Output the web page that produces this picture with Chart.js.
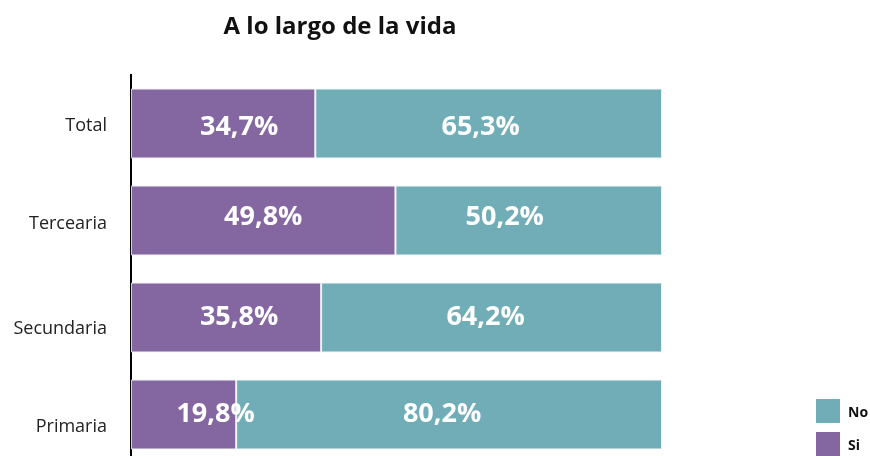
<!DOCTYPE html>
<html>
<head>
<meta charset="utf-8">
<script src="https://cdn.jsdelivr.net/npm/chart.js@4"></script>
<style>
  html, body { margin: 0; padding: 0; background: #fff; overflow: hidden; }
  #wrap { width: 870px; height: 464px; }
</style>
</head>
<body>
<div id="wrap"><canvas id="c" width="870" height="464"></canvas></div>
<script>
const titleText = "A lo largo de la vida";
const categories = ["Total", "Tercearia", "Secundaria", "Primaria"];
const siValues = [34.7, 49.8, 35.8, 19.8];
const noValues = [65.3, 50.2, 64.2, 80.2];
const seriesNames = ["Si", "No"];
// label placement nudges (px)
const siLabelShift = [16, 0, 13, 32];
const noLabelShift = [-8, -24, -6, -7];
const valueLabelDy = [0.5, -6.5, -3.5, -3.5];
const tickLabelDy = [1, 1.5, 9.5, 10.5];

const purple = "#8467a1";
const teal = "#71adb7";
const fontFam = "'Open Sans', 'Noto Sans', sans-serif";

const fmt = v => v.toFixed(1).replace(".", ",") + "%";

const labelPlugin = {
  id: "valueLabels",
  afterDatasetsDraw(chart) {
    const ctx = chart.ctx;
    ctx.save();
    ctx.fillStyle = "#ffffff";
    ctx.font = "bold 27px " + fontFam;
    ctx.textAlign = "center";
    ctx.textBaseline = "middle";
    chart.data.datasets.forEach((ds, di) => {
      const meta = chart.getDatasetMeta(di);
      const shifts = di === 0 ? siLabelShift : noLabelShift;
      meta.data.forEach((bar, i) => {
        const cx = (bar.x + bar.base) / 2 + shifts[i];
        ctx.fillText(fmt(ds.data[i]), cx, bar.y + valueLabelDy[i] + 3);
      });
    });
    ctx.restore();
  }
};

const extrasPlugin = {
  id: "extras",
  afterDraw(chart) {
    const ctx = chart.ctx;
    ctx.save();
    // category labels along the y scale
    const ys = chart.scales.y;
    ctx.fillStyle = "#222";
    ctx.font = "18px " + fontFam;
    ctx.textAlign = "right";
    ctx.textBaseline = "middle";
    chart.data.labels.forEach((lab, i) => {
      ctx.fillText(lab, ys.right - 24, ys.getPixelForTick(i) + tickLabelDy[i] + 1.5);
    });
    // title
    ctx.fillStyle = "#111";
    ctx.font = "bold 24px " + fontFam;
    ctx.textAlign = "center";
    ctx.fillText(titleText, 340, 27);
    // legend
    const items = [
      { text: chart.data.datasets[1].label, color: chart.data.datasets[1].backgroundColor, y: 399 },
      { text: chart.data.datasets[0].label, color: chart.data.datasets[0].backgroundColor, y: 432 }
    ];
    ctx.font = "bold 14px " + fontFam;
    ctx.textAlign = "left";
    items.forEach(it => {
      ctx.fillStyle = it.color;
      ctx.fillRect(816, it.y, 24, 24);
      ctx.fillStyle = "#111";
      ctx.fillText(it.text, 848, it.y + 14);
    });
    ctx.restore();
  }
};

new Chart(document.getElementById("c"), {
  type: "bar",
  data: {
    labels: categories,
    datasets: [
      { label: seriesNames[0], data: siValues, backgroundColor: purple, borderColor: "rgba(235,230,240,0.9)", borderWidth: 1, borderSkipped: false },
      { label: seriesNames[1], data: noValues, backgroundColor: teal, borderColor: "rgba(230,240,242,0.9)", borderWidth: 1, borderSkipped: false }
    ]
  },
  options: {
    indexAxis: "y",
    responsive: false,
    animation: false,
    maintainAspectRatio: false,
    layout: { padding: { top: 75, bottom: 1, left: 0, right: 208 } },
    datasets: { bar: { barPercentage: 0.72, categoryPercentage: 1 } },
    scales: {
      x: { stacked: true, min: 0, max: 100, display: false },
      y: {
        stacked: true,
        afterFit(scale) { scale.width = 131; },
        grid: { display: false, drawTicks: false },
        border: { display: true, color: "#000", width: 2 },
        ticks: { display: false }
      }
    },
    plugins: { legend: { display: false }, tooltip: { enabled: false }, title: { display: false } }
  },
  plugins: [labelPlugin, extrasPlugin]
});
</script>
</body>
</html>
